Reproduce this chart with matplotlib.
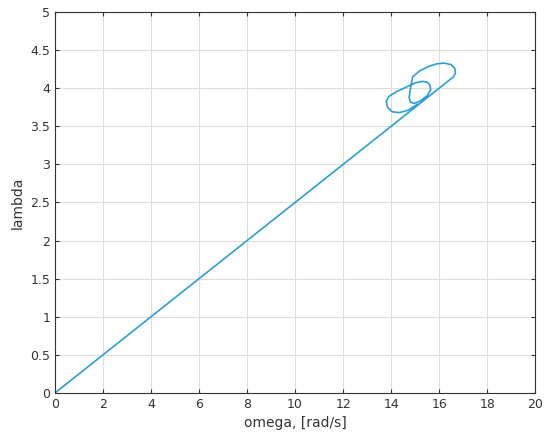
import matplotlib
matplotlib.use('Agg')
import matplotlib.pyplot as plt

omega = [0, 16.6, 16.68, 16.65, 16.5, 16.2, 15.9, 15.6, 15.2, 14.9, 14.85, 14.8, 14.75, 14.8,
         14.95, 15.2, 15.5, 15.65, 15.62, 15.5, 15.3, 15.0, 14.6, 14.2, 13.9, 13.8, 13.85,
         14.05, 14.35, 14.7, 15.1]
lam = [0, 4.15, 4.2, 4.26, 4.31, 4.33, 4.32, 4.29, 4.23, 4.15, 4.07, 3.98, 3.88, 3.82,
       3.80, 3.83, 3.90, 3.98, 4.04, 4.08, 4.09, 4.07, 4.01, 3.95, 3.89, 3.83, 3.75,
       3.69, 3.68, 3.71, 3.79]

fig = plt.figure(figsize=(5.5, 4.46), dpi=100)
ax = fig.add_axes([0.1, 0.119, 0.873, 0.854])
ax.plot(omega, lam, color='#2a9fd6', lw=1.2)
ax.set_xlim(0, 20)
ax.set_ylim(0, 5)
ax.set_xticks(range(0, 21, 2))
ax.set_yticks([i * 0.5 for i in range(11)])
ax.set_yticklabels(['0', '0.5', '1', '1.5', '2', '2.5', '3', '3.5', '4', '4.5', '5'])
ax.grid(True, color='#dddddd', lw=0.8)
ax.set_axisbelow(True)
ax.tick_params(direction='in', labelsize=9, colors='#333333', length=3, top=True, right=True, labeltop=False, labelright=False)
for s in ax.spines.values():
    s.set_color('#333333')
    s.set_linewidth(0.8)
ax.set_xlabel('omega, [rad/s]', fontsize=10, color='#333333')
ax.set_ylabel('lambda', fontsize=10, color='#333333')
fig.savefig('out.png', dpi=100)
